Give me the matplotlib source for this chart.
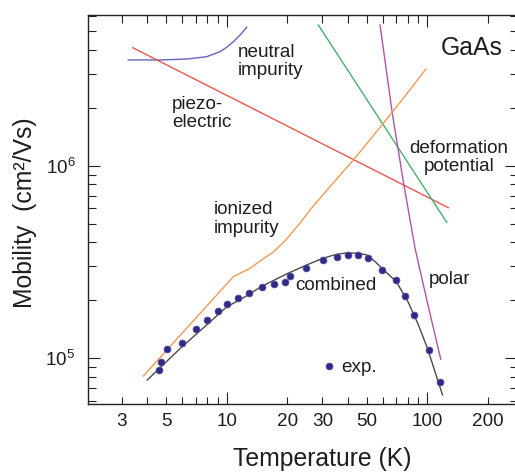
import matplotlib
matplotlib.use('Agg')
import matplotlib.pyplot as plt
from matplotlib.ticker import LogLocator, FuncFormatter, NullFormatter, LogFormatterMathtext

plt.rcParams['font.family'] = ['Liberation Sans', 'DejaVu Sans']
plt.rcParams['mathtext.fontset'] = 'custom'
plt.rcParams['mathtext.rm'] = 'Liberation Sans'
plt.rcParams['mathtext.it'] = 'Liberation Sans:italic'
plt.rcParams['mathtext.bf'] = 'Liberation Sans:bold'

# ---- data ----
exp_T = [4.60, 4.70, 5.02, 5.99, 7.03, 7.98, 9.02, 10.0, 11.43, 12.91, 15.0, 17.21,
         19.53, 20.56, 24.94, 30.3, 35.35, 40.4, 45.1, 50.45, 59.7, 70.1, 77.4,
         85.5, 101.6, 116.1]
exp_mu = [8.66e4, 9.53e4, 1.113e5, 1.20e5, 1.415e5, 1.575e5, 1.767e5, 1.913e5,
          2.048e5, 2.175e5, 2.354e5, 2.43e5, 2.48e5, 2.672e5, 2.933e5, 3.227e5,
          3.345e5, 3.45e5, 3.44e5, 3.305e5, 2.863e5, 2.55e5, 2.113e5, 1.684e5,
          1.104e5, 7.53e4]

comb_T = [4.02, 5.0, 6.0, 8.0, 10.0, 12.0, 15.0, 20.0, 25.0, 30.0, 35.0, 40.0,
          45.0, 50.0, 55.0, 60.0, 70.0, 80.0, 90.0, 100.0, 110.0, 119.0]
comb_mu = [7.72e4, 9.6e4, 1.15e5, 1.50e5, 1.85e5, 2.05e5, 2.37e5, 2.75e5, 3.05e5,
           3.30e5, 3.46e5, 3.53e5, 3.51e5, 3.44e5, 3.17e5, 2.90e5, 2.50e5, 1.97e5,
           1.50e5, 1.13e5, 8.3e4, 6.45e4]

ion_T = [3.84, 10.79, 13.07, 14.66, 17.07, 19.68, 23.19, 27.02, 33.88, 42.77,
         60.36, 77.4, 98.2]
ion_mu = [8.09e4, 2.653e5, 2.934e5, 3.2e5, 3.564e5, 4.108e5, 5.04e5, 6.18e5,
          8.13e5, 1.07e6, 1.66e6, 2.30e6, 3.17e6]

neu_T = [3.23, 4.65, 6.32, 7.95, 9.26, 10.0, 10.79, 11.65, 12.58]
neu_mu = [3.54e6, 3.54e6, 3.58e6, 3.68e6, 3.91e6, 4.12e6, 4.40e6, 4.77e6, 5.23e6]

piezo_T = [3.40, 127.3]
piezo_mu = [4.1e6, 6.05e5]

def_T = [28.6, 124.9]
def_mu = [5.38e6, 5.08e5]

pol_T = [58.1, 66.7, 75.9, 86.8, 100.0, 116.6]
pol_mu = [5.38e6, 1.907e6, 8.26e5, 3.725e5, 1.95e5, 9.88e4]

x_minor_labels = [3, 5, 20, 30, 50, 200]

# ---- figure ----
W, H = 515, 472
fig = plt.figure(figsize=(W / 100, H / 100), dpi=100)
L, R, T, B = 88, 517, 15, 404
ax = fig.add_axes([L / W, 1 - B / H, (R - L) / W, (B - T) / H])
ax.set_xscale('log')
ax.set_yscale('log')
ax.set_xlim(2.035, 279.7)
ax.set_ylim(5.79e4, 6.06e6)

lw = 1.0
ax.plot(neu_T, neu_mu, color='#6464c4', lw=lw)
ax.plot(piezo_T, piezo_mu, color='#e9584e', lw=lw)
ax.plot(def_T, def_mu, color='#45b070', lw=lw)
ax.plot(pol_T, pol_mu, color='#b452a8', lw=lw)
ax.plot(ion_T, ion_mu, color='#f59a55', lw=lw)
ax.plot(comb_T, comb_mu, color='#4a4a4a', lw=lw)
ax.plot(exp_T, exp_mu, 'o', ms=5.0, mfc='#2f2a85', mec='#5a56a8', mew=0.5)

# legend-like marker and text
ax.plot([0.5624], [0.0969], 'o', ms=5.0, mfc='#2f2a85', mec='#5a56a8', mew=0.5,
        transform=ax.transAxes, clip_on=False)

tc = '#1e1e1e'
fs = 13.6
ax.text(0.5911, 0.0951, 'exp.', transform=ax.transAxes, ha='left', va='center', fontsize=fs, color=tc)
ax.text(0.3481, 0.8800, 'neutral\nimpurity', transform=ax.transAxes, ha='left', va='center',
        fontsize=fs, color=tc, linespacing=1.1)
ax.text(0.1956, 0.7473, 'piezo-\nelectric', transform=ax.transAxes, ha='left', va='center',
        fontsize=fs, color=tc, linespacing=1.1)
ax.text(0.2928, 0.4756, 'ionized\nimpurity', transform=ax.transAxes, ha='left', va='center',
        fontsize=fs, color=tc, linespacing=1.1)
ax.text(0.8652, 0.6337, 'deformation\npotential', transform=ax.transAxes, ha='center', va='center',
        fontsize=fs, color=tc, linespacing=1.1)
ax.text(0.8949, 0.9144, 'GaAs', transform=ax.transAxes, ha='center', va='center',
        fontsize=17.8, color=tc)
ax.text(0.4836, 0.3046, 'combined', transform=ax.transAxes, ha='left', va='center', fontsize=fs, color=tc)
ax.text(0.7937, 0.3201, 'polar', transform=ax.transAxes, ha='left', va='center', fontsize=fs, color=tc)

# ---- ticks ----
ax.xaxis.set_major_locator(LogLocator(base=10, numticks=10))
ax.xaxis.set_minor_locator(LogLocator(base=10, subs=range(2, 10), numticks=20))
ax.xaxis.set_major_formatter(FuncFormatter(lambda v, p: f'{v:g}'))

def minor_fmt(v, p):
    for m in x_minor_labels:
        if abs(v - m) < 1e-6 * m:
            return f'{m:g}'
    return ''

ax.xaxis.set_minor_formatter(FuncFormatter(minor_fmt))
ax.yaxis.set_major_locator(LogLocator(base=10, numticks=10))
ax.yaxis.set_minor_locator(LogLocator(base=10, subs=range(2, 10), numticks=20))
ax.yaxis.set_major_formatter(LogFormatterMathtext())
ax.yaxis.set_minor_formatter(NullFormatter())

ax.tick_params(which='both', direction='in', top=True, right=True, labelsize=fs,
               width=0.8, color='#222222', labelcolor=tc)
ax.tick_params(which='major', length=8.6)
ax.tick_params(which='minor', length=5.4)
ax.tick_params(axis='x', which='both', pad=6.5)
ax.tick_params(axis='y', which='both', pad=9)

for s in ax.spines.values():
    s.set_linewidth(1.0)
    s.set_color('#222222')

ax.set_xlabel('Temperature (K)', fontsize=17.8, color=tc)
ax.xaxis.label.set_va('baseline')
ax.xaxis.set_label_coords(0.5472, -0.1594)
ax.set_ylabel('Mobility  (cm²/Vs)', fontsize=17.8, color=tc)
ax.yaxis.label.set_va('center')
ax.yaxis.set_label_coords(-0.148, 0.4923)

fig.savefig('out.png', dpi=100)
